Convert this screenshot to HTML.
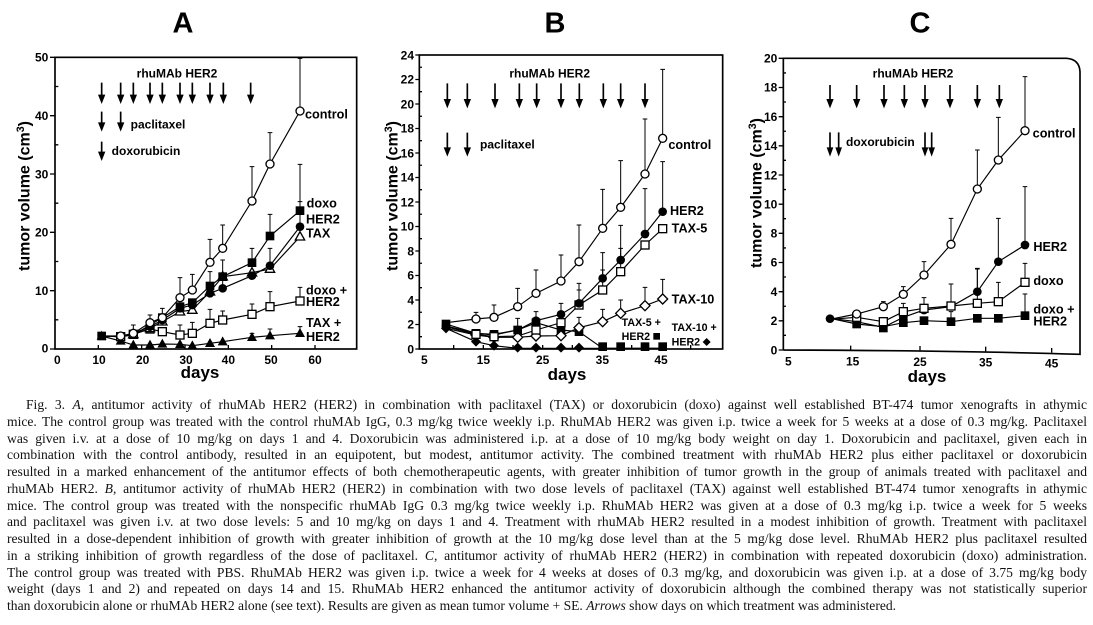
<!DOCTYPE html>
<html><head><meta charset="utf-8">
<style>
html,body{margin:0;padding:0;background:#fff;}
body{width:1093px;height:625px;position:relative;overflow:hidden;}
svg{position:absolute;top:0;}
svg text{font-family:"Liberation Sans",Arial,sans-serif;font-weight:bold;fill:#000;}
.cap{position:absolute;left:7px;top:397px;width:1080px;font-family:"Liberation Serif","Times New Roman",serif;font-size:13.6px;line-height:16.75px;color:#111;}
.l{text-align:justify;text-align-last:justify;white-space:normal;height:16.75px;overflow:visible;}
.l.first{text-indent:19px;}
.l.last{text-align-last:left;}
</style></head><body>

<svg style="left:0" width="370" height="395" viewBox="0 0 1110 1185">
<defs>
<g id="oc"><circle r="12" fill="#fff" stroke="#000" stroke-width="4"/></g>
<g id="fc"><circle r="13" fill="#000"/></g>
<g id="os"><rect x="-12" y="-12" width="24" height="24" fill="#fff" stroke="#000" stroke-width="4"/></g>
<g id="fs"><rect x="-13" y="-13" width="26" height="26" fill="#000"/></g>
<g id="ot"><path d="M0,-15 L14,10 L-14,10Z" fill="#fff" stroke="#000" stroke-width="4"/></g>
<g id="ft"><path d="M0,-16 L15,11 L-15,11Z" fill="#000"/></g>
<g id="od"><path d="M0,-15 L15,0 L0,15 L-15,0Z" fill="#fff" stroke="#000" stroke-width="4"/></g>
<g id="fd"><path d="M0,-15 L15,0 L0,15 L-15,0Z" fill="#000"/></g>
</defs>
<text x="549" y="97" font-size="87" text-anchor="middle">A</text>
<text transform="translate(72,588) rotate(-90)" font-size="48" text-anchor="middle" dy="16">tumor volume (cm<tspan font-size="32" dy="-16">3</tspan><tspan dy="16">)</tspan></text>
<text x="600" y="1134" font-size="51" text-anchor="middle">days</text>
<rect x="165" y="172" width="905" height="875" fill="none" stroke="#000" stroke-width="5"/>
<path d="M150,1047H165M150,872H165M150,697H165M150,522H165M150,347H165M150,172H165M165,959.5h10M165,784.5h10M165,609.5h10M165,434.5h10M165,259.5h10M295,1047v-12M425,1047v-12M555,1047v-12M685,1047v-12M815,1047v-12M945,1047v-12" stroke="#000" stroke-width="4"/>
<g font-size="36" text-anchor="end">
<text x="145" y="1058">0</text><text x="145" y="885">10</text><text x="145" y="710">20</text><text x="145" y="535">30</text><text x="145" y="360">40</text><text x="145" y="185">50</text>
</g>
<g font-size="36" text-anchor="middle">
<text x="172" y="1092">0</text><text x="297" y="1092">10</text><text x="428" y="1092">20</text><text x="558" y="1092">30</text><text x="685" y="1092">40</text><text x="813" y="1092">50</text><text x="945" y="1092">60</text>
</g>
<text x="410" y="233" font-size="36">rhuMAb HER2</text>
<text x="392" y="385" font-size="36">paclitaxel</text>
<text x="335" y="465" font-size="36">doxorubicin</text>
<path d="M305,248V290M362,248V290M400,248V290M450,248V290M487,248V290M540,248V290M577,248V290M630,248V290M670,248V290M752,248V290M305,335V373M362,335V373M305,425V461" stroke="#000" stroke-width="5"/>
<path d="M294,284h22l-11,28zM351,284h22l-11,28zM389,284h22l-11,28zM439,284h22l-11,28zM476,284h22l-11,28zM529,284h22l-11,28zM566,284h22l-11,28zM619,284h22l-11,28zM659,284h22l-11,28zM741,284h22l-11,28zM294,367h22l-11,28zM351,367h22l-11,28zM294,455h22l-11,28z" fill="#000"/>
<g stroke="#000" stroke-width="3" fill="none">
<path d="M400,1000V975M393,975h14M450,968V945M443,945h14M487,953V925M480,925h14M540,893V833M533,833h14M577,870V823M570,823h14M630,787V718M623,718h14M668,745V675M661,675h14M756,603V500M749,500h14M810,492V398M803,398h14M900,333V175M893,175h14"/>
<path d="M630,858V815M623,815h14M756,788V745M749,745h14M810,708V643M803,643h14M900,632V493M893,493h14"/>
<path d="M900,680V605M893,605h14M668,865V835M661,835h14M668,830V780M661,780h14M810,807V745M803,745h14M577,930V905M570,905h14"/>
<path d="M540,1005V975M533,975h14M577,1000V967M570,967h14M630,970V928M623,928h14M668,960V933M661,933h14M756,943V912M749,912h14M810,920V875M803,875h14M900,903V862M893,862h14"/>
<path d="M756,1012V1000M749,1000h14M810,1007V987M803,987h14M900,1000V980M893,980h14"/>
</g>
<g stroke="#000" stroke-width="3.5" fill="none">
<polyline points="305,1008 362,1008 400,1000 450,968 487,953 540,893 577,870 630,787 668,745 756,603 810,492 900,333"/>
<polyline points="305,1008 362,1010 400,1005 450,975 487,953 540,920 577,908 630,858 668,830 756,788 810,708 900,632"/>
<polyline points="305,1008 362,1010 400,1000 450,980 487,960 540,925 577,915 630,880 668,865 756,827 810,797 900,680"/>
<polyline points="305,1008 362,1010 400,1003 450,985 487,965 540,935 577,930 630,875 668,830 756,818 810,807 900,710"/>
<polyline points="305,1008 362,1010 400,1003 450,987 487,995 540,1005 577,1000 630,970 668,960 756,943 810,920 900,903"/>
<polyline points="305,1008 362,1023 400,1035 450,1035 487,1032 540,1033 577,1037 630,1030 668,1025 756,1012 810,1007 900,1000"/>
</g>
<g>
<use href="#ft" x="305" y="1008"/><use href="#ft" x="362" y="1023"/><use href="#ft" x="400" y="1035"/><use href="#ft" x="450" y="1035"/><use href="#ft" x="487" y="1032"/><use href="#ft" x="540" y="1033"/><use href="#ft" x="577" y="1037"/><use href="#ft" x="630" y="1030"/><use href="#ft" x="668" y="1025"/><use href="#ft" x="756" y="1012"/><use href="#ft" x="810" y="1007"/><use href="#ft" x="900" y="1000"/>
<use href="#os" x="362" y="1010"/><use href="#os" x="400" y="1003"/><use href="#os" x="450" y="987"/><use href="#os" x="487" y="995"/><use href="#os" x="540" y="1005"/><use href="#os" x="577" y="1000"/><use href="#os" x="630" y="970"/><use href="#os" x="668" y="960"/><use href="#os" x="756" y="943"/><use href="#os" x="810" y="920"/><use href="#os" x="900" y="903"/>
<use href="#ot" x="400" y="1003"/><use href="#ot" x="450" y="985"/><use href="#ot" x="487" y="965"/><use href="#ot" x="540" y="935"/><use href="#ot" x="577" y="930"/><use href="#ot" x="630" y="875"/><use href="#ot" x="668" y="830"/><use href="#ot" x="756" y="818"/><use href="#ot" x="810" y="807"/><use href="#ot" x="900" y="710"/>
<use href="#fc" x="400" y="1000"/><use href="#fc" x="450" y="980"/><use href="#fc" x="487" y="960"/><use href="#fc" x="540" y="925"/><use href="#fc" x="577" y="915"/><use href="#fc" x="630" y="880"/><use href="#fc" x="668" y="865"/><use href="#fc" x="756" y="827"/><use href="#fc" x="810" y="797"/><use href="#fc" x="900" y="680"/>
<use href="#fs" x="305" y="1008"/><use href="#fs" x="450" y="975"/><use href="#fs" x="487" y="953"/><use href="#fs" x="540" y="920"/><use href="#fs" x="577" y="908"/><use href="#fs" x="630" y="858"/><use href="#fs" x="668" y="830"/><use href="#fs" x="756" y="788"/><use href="#fs" x="810" y="708"/><use href="#fs" x="900" y="632"/>
<use href="#oc" x="362" y="1008"/><use href="#oc" x="400" y="1000"/><use href="#oc" x="450" y="968"/><use href="#oc" x="487" y="953"/><use href="#oc" x="540" y="893"/><use href="#oc" x="577" y="870"/><use href="#oc" x="630" y="787"/><use href="#oc" x="668" y="745"/><use href="#oc" x="756" y="603"/><use href="#oc" x="810" y="492"/><use href="#oc" x="900" y="333"/>
</g>
<g font-size="38">
<text x="915" y="356">control</text>
<text x="920" y="623">doxo</text>
<text x="918" y="671">HER2</text>
<text x="918" y="713">TAX</text>
<text x="918" y="883">doxo +</text>
<text x="918" y="918">HER2</text>
<text x="918" y="981">TAX +</text>
<text x="918" y="1023">HER2</text>
</g>
</svg>

<svg style="left:370px" width="370" height="395" viewBox="0 0 1110 1185">
<text x="555" y="97" font-size="87" text-anchor="middle">B</text>
<text transform="translate(66,588) rotate(-90)" font-size="48" text-anchor="middle" dy="16">tumor volume (cm<tspan font-size="32" dy="-16">3</tspan><tspan dy="16">)</tspan></text>
<text x="591" y="1140" font-size="51" text-anchor="middle">days</text>
<rect x="148" y="165" width="910" height="882" fill="none" stroke="#000" stroke-width="5"/>
<path d="M136,1047H148M136,973.5H148M136,900H148M136,826.5H148M136,753H148M136,679.5H148M136,606H148M136,532.5H148M136,459H148M136,385.5H148M136,312H148M136,238.5H148M136,165H148M148,1010h8M148,936.75h8M148,863h8M148,789.75h8M148,716h8M148,642.75h8M148,569h8M148,495.75h8M148,422h8M148,348.75h8M148,275h8M148,201.75h8M251,1047v-12M340,1047v-12M429,1047v-12M518,1047v-12M607,1047v-12M697,1047v-12M785,1047v-12M873,1047v-12M962,1047v-12" stroke="#000" stroke-width="4"/>
<g font-size="36" text-anchor="end">
<text x="132" y="1060">0</text><text x="132" y="986">2</text><text x="132" y="913">4</text><text x="132" y="839">6</text><text x="132" y="766">8</text><text x="132" y="692">10</text><text x="132" y="619">12</text><text x="132" y="545">14</text><text x="132" y="472">16</text><text x="132" y="398">18</text><text x="132" y="325">20</text><text x="132" y="251">22</text><text x="132" y="178">24</text>
</g>
<g font-size="36" text-anchor="middle">
<text x="163" y="1092">5</text><text x="340" y="1092">15</text><text x="518" y="1092">25</text><text x="697" y="1092">35</text><text x="873" y="1092">45</text>
</g>
<text x="418" y="233" font-size="36">rhuMAb HER2</text>
<text x="330" y="445" font-size="36">paclitaxel</text>
<path d="M232,250V303M292,250V303M375,250V303M448,250V303M500,250V303M573,250V303M628,250V303M700,250V303M752,250V303M825,250V303M232,398V448M292,398V448" stroke="#000" stroke-width="5"/>
<path d="M221,297h22l-11,28zM281,297h22l-11,28zM364,297h22l-11,28zM437,297h22l-11,28zM489,297h22l-11,28zM562,297h22l-11,28zM617,297h22l-11,28zM689,297h22l-11,28zM741,297h22l-11,28zM814,297h22l-11,28zM221,442h22l-11,28zM281,442h22l-11,28z" fill="#000"/>
<g stroke="#000" stroke-width="3" fill="none">
<path d="M318,957V937M311,937h14M372,952V915M365,915h14M443,920V865M436,865h14M498,880V810M491,810h14M573,843V765M566,765h14M627,785V675M620,675h14M698,685V568M691,568h14M752,622V482M745,482h14M825,522V357M818,357h14M878,415V208M871,208h14"/>
<path d="M443,990V955M436,955h14M498,962V935M491,935h14M573,943V910M566,910h14M627,910V850M620,850h14M698,835V758M691,758h14M752,780V676M745,676h14M825,702V566M818,566h14M878,635V485M871,485h14"/>
<path d="M627,915V870M620,870h14M698,870V810M691,810h14M752,815V745M745,745h14"/>
<path d="M627,983V952M620,952h14M698,965V928M691,928h14M752,940V900M745,900h14M825,917V862M818,862h14M878,897V838M871,838h14"/>
</g>
<g stroke="#000" stroke-width="3.5" fill="none">
<polyline points="228,968 318,957 372,952 443,920 498,880 573,843 627,785 698,685 752,622 825,522 878,415"/>
<polyline points="228,978 318,1000 372,1005 443,990 498,962 573,943 627,910 698,835 752,780 825,702 878,635"/>
<polyline points="228,980 318,1003 372,1010 443,1008 498,990 573,968 627,915 698,870 752,815 825,735 878,686"/>
<polyline points="228,985 318,1005 372,1012 443,1012 498,1008 573,1007 627,983 698,965 752,940 825,917 878,897"/>
<polyline points="228,972 318,1000 372,1003 443,990 498,968 573,990 627,995 698,1045 752,1045 825,1045 878,1045"/>
<polyline points="228,985 318,1025 372,1037 443,1045 498,1045 573,1045 627,1045 698,1045 752,1045 825,1045 878,1045"/>
</g>
<g>
<use href="#fd" x="228" y="985"/><use href="#fd" x="318" y="1025"/><use href="#fd" x="372" y="1037"/><use href="#fd" x="443" y="1043"/><use href="#fd" x="498" y="1043"/><use href="#fd" x="573" y="1043"/><use href="#fd" x="627" y="1043"/>
<use href="#fs" x="228" y="972"/><use href="#fs" x="318" y="1000"/><use href="#fs" x="372" y="1003"/><use href="#fs" x="443" y="990"/><use href="#fs" x="498" y="968"/><use href="#fs" x="573" y="990"/><use href="#fs" x="627" y="995"/><use href="#fs" x="698" y="1040"/><use href="#fs" x="752" y="1040"/><use href="#fs" x="825" y="1040"/><use href="#fs" x="878" y="1040"/>
<use href="#od" x="318" y="1005"/><use href="#od" x="372" y="1012"/><use href="#od" x="443" y="1012"/><use href="#od" x="498" y="1008"/><use href="#od" x="573" y="1007"/><use href="#od" x="627" y="983"/><use href="#od" x="698" y="965"/><use href="#od" x="752" y="940"/><use href="#od" x="825" y="917"/><use href="#od" x="878" y="897"/>
<use href="#os" x="318" y="1003"/><use href="#os" x="372" y="1010"/><use href="#os" x="498" y="990"/><use href="#os" x="573" y="968"/><use href="#os" x="627" y="915"/><use href="#os" x="698" y="870"/><use href="#os" x="752" y="815"/><use href="#os" x="825" y="735"/><use href="#os" x="878" y="686"/>
<use href="#fc" x="228" y="978"/><use href="#fc" x="443" y="990"/><use href="#fc" x="498" y="962"/><use href="#fc" x="573" y="943"/><use href="#fc" x="627" y="910"/><use href="#fc" x="698" y="835"/><use href="#fc" x="752" y="780"/><use href="#fc" x="825" y="702"/><use href="#fc" x="878" y="635"/>
<use href="#oc" x="318" y="957"/><use href="#oc" x="372" y="952"/><use href="#oc" x="443" y="920"/><use href="#oc" x="498" y="880"/><use href="#oc" x="573" y="843"/><use href="#oc" x="627" y="785"/><use href="#oc" x="698" y="685"/><use href="#oc" x="752" y="622"/><use href="#oc" x="825" y="522"/><use href="#oc" x="878" y="415"/>
</g>
<g font-size="38">
<text x="895" y="447">control</text>
<text x="900" y="645">HER2</text>
<text x="905" y="697">TAX-5</text>
<text x="905" y="910">TAX-10</text>
</g>
<g font-size="32">
<text x="755" y="978">TAX-5 +</text>
<text x="755" y="1020">HER2</text>
<text x="905" y="993">TAX-10 +</text>
<text x="905" y="1037">HER2</text>
</g>
<rect x="850" y="999" width="20" height="20" fill="#000"/>
<path d="M1010,1014 L1022,1026 L1010,1038 L998,1026Z" fill="#000"/>
</svg>

<svg style="left:730px" width="363" height="395" viewBox="0 0 1089 1185">
<text x="570" y="97" font-size="87" text-anchor="middle">C</text>
<text transform="translate(78,579) rotate(-90)" font-size="48" text-anchor="middle" dy="16">tumor volume (cm<tspan font-size="32" dy="-16">3</tspan><tspan dy="16">)</tspan></text>
<text x="591" y="1146" font-size="51" text-anchor="middle">days</text>
<path d="M160,1050V175H1010Q1048,178 1050,215V1063Q700,1052 160,1050" fill="none" stroke="#000" stroke-width="5"/>
<path d="M146,1050H160M146,962.5H160M146,875H160M146,787.5H160M146,700H160M146,612.5H160M146,525H160M146,437.5H160M146,350H160M146,262.5H160M146,175H160M160,1006h8M160,918.75h8M160,831h8M160,743.75h8M160,656h8M160,568.75h8M160,481h8M160,393.75h8M160,306h8M160,218.75h8M362,1051v-14M570,1052v-14M767,1054v-14M965,1058v-14" stroke="#000" stroke-width="4"/>
<g font-size="36" text-anchor="end">
<text x="142" y="1063">0</text><text x="142" y="975">2</text><text x="142" y="888">4</text><text x="142" y="800">6</text><text x="142" y="713">8</text><text x="142" y="625">10</text><text x="142" y="538">12</text><text x="142" y="450">14</text><text x="142" y="363">16</text><text x="142" y="275">18</text><text x="142" y="188">20</text>
</g>
<g font-size="36" text-anchor="middle">
<text x="175" y="1097">5</text><text x="368" y="1097">15</text><text x="570" y="1098">25</text><text x="767" y="1100">35</text><text x="965" y="1103">45</text>
</g>
<text x="428" y="233" font-size="36">rhuMAb HER2</text>
<text x="348" y="438" font-size="36">doxorubicin</text>
<path d="M300,255V303M380,255V303M462,255V303M523,255V303M585,255V303M660,255V303M742,255V303M808,255V303M300,397V448M326,397V448M585,397V448M605,397V448" stroke="#000" stroke-width="5"/>
<path d="M289,297h22l-11,28zM369,297h22l-11,28zM451,297h22l-11,28zM512,297h22l-11,28zM574,297h22l-11,28zM649,297h22l-11,28zM731,297h22l-11,28zM797,297h22l-11,28zM290,442h20l-10,28zM316,442h20l-10,28zM575,442h20l-10,28zM595,442h20l-10,28z" fill="#000"/>
<g stroke="#000" stroke-width="3" fill="none">
<path d="M460,920V905M453,905h14M520,883V860M513,860h14M582,825V785M575,785h14M663,733V655M656,655h14M742,567V450M735,450h14M805,480V352M798,352h14M885,392V230M878,230h14"/>
<path d="M742,875V807M735,807h14M805,785V655M798,655h14M885,735V560M878,560h14"/>
<path d="M520,935V910M513,910h14M582,925V893M575,893h14M663,918V852M656,852h14M742,910V805M735,805h14M805,905V847M798,847h14M885,847V790M878,790h14"/>
<path d="M663,965V935M656,935h14M885,947V882M878,882h14"/>
</g>
<g stroke="#000" stroke-width="3.5" fill="none">
<polyline points="300,958 380,942 460,920 520,883 582,825 663,733 742,567 805,480 885,392"/>
<polyline points="300,955 380,965 460,982 520,952 582,930 663,920 742,875 805,785 885,735"/>
<polyline points="300,958 380,952 460,965 520,935 582,925 663,918 742,910 805,905 885,847"/>
<polyline points="300,955 380,972 460,980 520,968 582,962 663,965 742,955 805,955 885,947"/>
</g>
<g>
<use href="#fs" x="380" y="972"/><use href="#fs" x="460" y="984"/><use href="#fs" x="520" y="968"/><use href="#fs" x="582" y="962"/><use href="#fs" x="663" y="965"/><use href="#fs" x="742" y="955"/><use href="#fs" x="805" y="955"/><use href="#fs" x="885" y="947"/>
<use href="#fc" x="300" y="956"/><use href="#fc" x="460" y="978"/><use href="#fc" x="520" y="952"/><use href="#fc" x="582" y="930"/><use href="#fc" x="742" y="875"/><use href="#fc" x="805" y="785"/><use href="#fc" x="885" y="735"/>
<use href="#os" x="380" y="952"/><use href="#os" x="460" y="965"/><use href="#os" x="520" y="935"/><use href="#os" x="582" y="925"/><use href="#os" x="663" y="918"/><use href="#os" x="742" y="910"/><use href="#os" x="805" y="905"/><use href="#os" x="885" y="847"/>
<use href="#oc" x="380" y="942"/><use href="#oc" x="460" y="920"/><use href="#oc" x="520" y="883"/><use href="#oc" x="582" y="825"/><use href="#oc" x="663" y="733"/><use href="#oc" x="742" y="567"/><use href="#oc" x="805" y="480"/><use href="#oc" x="885" y="392"/>
</g>
<g font-size="38">
<text x="908" y="412">control</text>
<text x="910" y="753">HER2</text>
<text x="910" y="855">doxo</text>
<text x="910" y="940">doxo +</text>
<text x="910" y="977">HER2</text>
</g>
</svg>

<div class="cap">
<div class="l first">Fig. 3. <i>A</i>, antitumor activity of rhuMAb HER2 (HER2) in combination with paclitaxel (TAX) or doxorubicin (doxo) against well established BT-474 tumor xenografts in athymic</div>
<div class="l">mice. The control group was treated with the control rhuMAb IgG, 0.3 mg/kg twice weekly i.p. RhuMAb HER2 was given i.p. twice a week for 5 weeks at a dose of 0.3 mg/kg. Paclitaxel</div>
<div class="l">was given i.v. at a dose of 10 mg/kg on days 1 and 4. Doxorubicin was administered i.p. at a dose of 10 mg/kg body weight on day 1. Doxorubicin and paclitaxel, given each in</div>
<div class="l">combination with the control antibody, resulted in an equipotent, but modest, antitumor activity. The combined treatment with rhuMAb HER2 plus either paclitaxel or doxorubicin</div>
<div class="l">resulted in a marked enhancement of the antitumor effects of both chemotherapeutic agents, with greater inhibition of tumor growth in the group of animals treated with paclitaxel and</div>
<div class="l">rhuMAb HER2. <i>B</i>, antitumor activity of rhuMAb HER2 (HER2) in combination with two dose levels of paclitaxel (TAX) against well established BT-474 tumor xenografts in athymic</div>
<div class="l">mice. The control group was treated with the nonspecific rhuMAb IgG 0.3 mg/kg twice weekly i.p. RhuMAb HER2 was given at a dose of 0.3 mg/kg i.p. twice a week for 5 weeks</div>
<div class="l">and paclitaxel was given i.v. at two dose levels: 5 and 10 mg/kg on days 1 and 4. Treatment with rhuMAb HER2 resulted in a modest inhibition of growth. Treatment with paclitaxel</div>
<div class="l">resulted in a dose-dependent inhibition of growth with greater inhibition of growth at the 10 mg/kg dose level than at the 5 mg/kg dose level. RhuMAb HER2 plus paclitaxel resulted</div>
<div class="l">in a striking inhibition of growth regardless of the dose of paclitaxel. <i>C</i>, antitumor activity of rhuMAb HER2 (HER2) in combination with repeated doxorubicin (doxo) administration.</div>
<div class="l">The control group was treated with PBS. RhuMAb HER2 was given i.p. twice a week for 4 weeks at doses of 0.3 mg/kg, and doxorubicin was given i.p. at a dose of 3.75 mg/kg body</div>
<div class="l">weight (days 1 and 2) and repeated on days 14 and 15. RhuMAb HER2 enhanced the antitumor activity of doxorubicin although the combined therapy was not statistically superior</div>
<div class="l last">than doxorubicin alone or rhuMAb HER2 alone (see text). Results are given as mean tumor volume + SE. <i>Arrows</i> show days on which treatment was administered.</div>
</div>
</body></html>
